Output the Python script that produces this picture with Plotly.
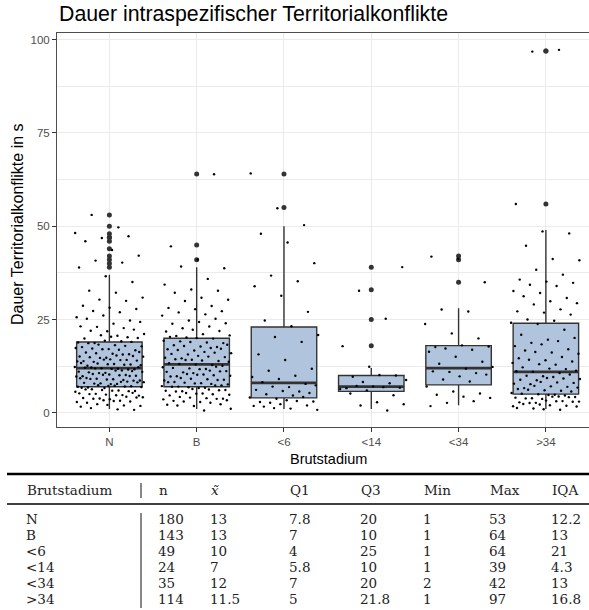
import numpy as np
import plotly.graph_objects as go

# ---- data -------------------------------------------------------------
categories = ["N", "B", "<6", "<14", "<34", ">34"]
tick_labels = ["N", "B", "&lt;6", "&lt;14", "&lt;34", "&gt;34"]

# conflict durations in seconds, one list per breeding stage
dauer_N = [
    1, 1, 1, 2, 2, 2, 2, 2, 3, 3, 3, 3, 3, 3, 4, 4, 4, 4, 4, 4, 4,
    5, 5, 5, 5, 5, 5, 5, 5, 6, 6, 6, 6, 6, 6, 6, 6,
    7, 7, 7, 7, 7, 7, 7, 7, 7, 7,
    8, 8, 8, 8, 8, 8, 8, 8, 8, 9, 9, 9, 9, 9, 9, 9, 9, 9,
    10, 10, 10, 10, 10, 10, 10, 10, 10, 11, 11, 11, 11, 11, 11, 11, 11,
    12, 12, 12, 12, 12, 12, 12, 12, 12, 12,
    13, 13, 13, 13, 13, 13, 13, 13, 14, 14, 14, 14, 14, 14, 14, 14,
    15, 15, 15, 15, 15, 15, 15, 16, 16, 16, 16, 16, 16,
    17, 17, 17, 17, 17, 17, 18, 18, 18, 18, 18, 19, 19, 19, 19, 19, 19,
    20, 20, 20, 20, 21, 21, 21, 22, 22, 22, 23, 23, 23, 24, 24, 25, 25,
    26, 26, 27, 27, 28, 28, 29, 30, 30, 31, 32, 33, 35, 37,
    39, 40, 41, 42, 44, 46, 47, 47, 48, 50, 53,
]
dauer_B = [
    1, 1, 2, 2, 2, 2, 3, 3, 3, 3, 3, 4, 4, 4, 4, 4, 4,
    5, 5, 5, 5, 5, 5, 6, 6, 6, 6, 6, 6, 6,
    7, 7, 7, 7, 7, 7, 7, 7,
    8, 8, 8, 8, 8, 8, 8, 9, 9, 9, 9, 9, 9, 10, 10, 10, 10, 10, 10, 10,
    11, 11, 11, 11, 11, 11, 12, 12, 12, 12, 12, 12,
    13, 13, 13, 13, 13,
    14, 14, 14, 14, 14, 14, 15, 15, 15, 15, 15, 16, 16, 16, 16, 16,
    17, 17, 17, 17, 17, 18, 18, 18, 18, 18, 19, 19, 19, 19, 19,
    20, 20, 20, 20,
    21, 21, 21, 22, 22, 22, 23, 23, 24, 24, 24, 25, 25, 26, 26, 27, 27,
    28, 28, 29, 30, 30, 31, 32, 33, 33, 34, 36, 39, 39,
    41, 45, 64,
]
dauer_lt6 = [
    1, 1, 1, 2, 2, 2, 2, 3, 3, 3, 3, 3, 4, 4, 4, 5, 5, 5, 6, 6, 6,
    7, 7, 7, 8, 8, 9, 10, 10, 11, 12, 14, 16, 19, 20, 21, 23,
    25, 27, 31, 34, 35, 37, 40, 46, 48, 50, 55, 64,
]
dauer_lt14 = [
    1, 2, 2, 3, 5, 5, 6, 6, 7, 7, 7, 7, 7, 8, 8, 9, 10, 10, 10, 12,
    18, 25, 33, 39,
]
dauer_lt34 = [
    2, 3, 3, 4, 4, 5, 5, 6, 7, 8, 9, 10, 10, 11, 11, 11, 12, 12, 13,
    14, 15, 16, 17, 17, 18, 18, 18, 20, 21, 24, 27, 28, 35, 41, 42,
]
dauer_gt34 = [
    1, 1, 1, 1, 2, 2, 2, 2, 2, 2, 3, 3, 3, 3, 3, 3, 3, 3,
    4, 4, 4, 4, 4, 4, 4, 4, 5, 5, 5, 5, 5, 5,
    6, 6, 6, 6, 6, 7, 7, 7, 7, 7, 8, 8, 8, 8, 8, 9, 9, 9, 9, 9,
    10, 10, 10, 10, 11, 11, 11, 11,
    12, 12, 12, 13, 13, 13, 14, 14, 14, 15, 15, 16, 16, 16, 17, 17,
    18, 18, 19, 19, 20, 20, 21, 22, 24, 24,
    25, 25, 26, 27, 27, 28, 29, 29, 30, 31, 31, 32, 33, 34, 34, 35, 35,
    36, 37, 38, 41, 41, 45, 48, 49, 56, 97, 97,
]
groups = [dauer_N, dauer_B, dauer_lt6, dauer_lt14, dauer_lt34, dauer_gt34]

# summary table printed under the chart
table_header = ["Brutstadium", "n", "<i>x̃</i>", "Q1", "Q3", "Min", "Max", "IQA"]
table_stage = ["N", "B", "&lt;6", "&lt;14", "&lt;34", "&gt;34"]
table_n = ["180", "143", "49", "24", "35", "114"]
table_median = ["13", "13", "10", "7", "12", "11.5"]
table_q1 = ["7.8", "7", "4", "5.8", "7", "5"]
table_q3 = ["20", "10", "25", "10", "20", "21.8"]
table_min = ["1", "1", "1", "1", "2", "1"]
table_max = ["53", "64", "64", "39", "42", "97"]
table_iqa = ["12.2", "13", "21", "4.3", "13", "16.8"]

# ---- geometry of the figure ------------------------------------------
W, H = 589, 610
L, R, T, B = 57, 589, 33, 427          # plot panel in pixels


def px_x(px):
    return (px - L) / (R - L)


def px_y(py):
    return (B - py) / (B - T)


# ---- box statistics (R type-7 quantiles, 1.5 IQR whiskers) -----------
pos = np.arange(1, len(categories) + 1)
q1s, meds, q3s, lows, highs = [], [], [], [], []
out_x, out_y = [], []
for p, vals in zip(pos, groups):
    v = np.asarray(vals, dtype=float)
    q1, med, q3 = np.percentile(v, [25, 50, 75])
    iqr = q3 - q1
    lo_f, hi_f = q1 - 1.5 * iqr, q3 + 1.5 * iqr
    inside = v[(v >= lo_f) & (v <= hi_f)]
    q1s.append(q1); meds.append(med); q3s.append(q3)
    lows.append(inside.min()); highs.append(inside.max())
    outl = v[(v < lo_f) | (v > hi_f)]
    out_x += [p] * len(outl)
    out_y += list(outl)

# jittered raw observations (horizontal +-0.4, vertical +-0.4)
jit_x, jit_y = [], []
for g, (p, vals) in enumerate(zip(pos, groups)):
    for k, val in enumerate(vals):
        fx = ((k + 1) * 0.6180339887 + 0.37 * g) % 1.0
        fy = ((k + 1) * 0.4142135624 + 0.21 * g) % 1.0
        jit_x.append(p + (fx - 0.5) * 0.8)
        jit_y.append(val + (fy - 0.5) * 0.8)

BOX_W = 0.75
med_x, med_y = [], []
for p, m in zip(pos, meds):
    med_x += [p - BOX_W / 2, p + BOX_W / 2, None]
    med_y += [m, m, None]

fig = go.Figure()
fig.add_trace(go.Box(
    x=pos, q1=q1s, median=meds, q3=q3s, lowerfence=lows, upperfence=highs,
    width=BOX_W, whiskerwidth=0, boxpoints=False,
    fillcolor="#B0C4DE", line=dict(color="#333333", width=1.4),
    showlegend=False, hoverinfo="skip",
))
fig.add_trace(go.Scatter(
    x=med_x, y=med_y, mode="lines", line=dict(color="#333333", width=2.8),
    showlegend=False, hoverinfo="skip",
))
fig.add_trace(go.Scatter(
    x=out_x, y=out_y, mode="markers",
    marker=dict(color="#333333", size=5, line=dict(width=0)),
    showlegend=False, hoverinfo="skip",
))
fig.add_trace(go.Scatter(
    x=jit_x, y=jit_y, mode="markers",
    marker=dict(color="black", size=2.4, line=dict(width=0)),
    showlegend=False, hoverinfo="skip",
))

grid = "#EBEBEB"
fig.update_xaxes(
    range=[0.4, 0.4 + (R - L) / 87.3], tickmode="array", tickvals=pos,
    ticktext=tick_labels, showgrid=True, gridcolor=grid, gridwidth=1.1,
    zeroline=False, showline=True, mirror=True, linecolor="#4d4d4d",
    linewidth=1, ticks="outside", ticklen=4, tickcolor="#333333",
    tickfont=dict(family="Liberation Sans", size=11.5, color="#4D4D4D"),
)
fig.update_yaxes(
    range=[-3.8, 101.8], tickmode="array", tickvals=[0, 25, 50, 75, 100],
    showgrid=True, gridcolor=grid, gridwidth=1.1, zeroline=False,
    showline=True, linecolor="#4d4d4d", linewidth=1,
    ticks="outside", ticklen=4, tickcolor="#333333",
    tickfont=dict(family="Liberation Sans", size=11.5, color="#4D4D4D"),
    minor=dict(tickvals=[12.5, 37.5, 62.5, 87.5], showgrid=True,
               gridcolor=grid, gridwidth=0.6, ticks=""),
)

ann = []
shapes = []
# titles
ann.append(dict(text="Dauer intraspezifischer Territorialkonflikte",
                x=px_x(57), y=px_y(14), xanchor="left", yanchor="middle",
                font=dict(family="Liberation Sans", size=21.3, color="black")))
ann.append(dict(text="Brutstadium", x=px_x(328), y=px_y(459),
                xanchor="center", yanchor="middle",
                font=dict(family="Liberation Sans", size=14.5, color="black")))
ann.append(dict(text="Dauer Territorialkonflikte in s", x=px_x(18),
                y=px_y(224), textangle=-90, xanchor="center",
                yanchor="middle",
                font=dict(family="Liberation Sans", size=16, color="black")))

# table
col_x = [24.5, 157, 209, 288, 358.5, 421.5, 488, 549.5]
tfont = dict(family="DejaVu Serif", size=13.5, color="#222222")
for cx, h in zip(col_x, table_header):
    ann.append(dict(text=h, x=px_x(cx), y=px_y(490), xanchor="left",
                    yanchor="middle", font=tfont))
columns = [table_stage, table_n, table_median, table_q1, table_q3,
           table_min, table_max, table_iqa]
row_y = [519 + 16 * i for i in range(len(table_stage))]
for cx, col in zip(col_x, columns):
    for ry, txt in zip(row_y, col):
        ann.append(dict(text=txt, x=px_x(cx), y=px_y(ry), xanchor="left",
                        yanchor="middle", font=tfont, borderpad=0))
for a in ann:
    a.update(xref="paper", yref="paper", showarrow=False)

shapes.append(dict(type="line", xref="paper", yref="paper",
                   x0=px_x(7), x1=px_x(600), y0=px_y(474), y1=px_y(474),
                   line=dict(color="black", width=2.6)))
shapes.append(dict(type="line", xref="paper", yref="paper",
                   x0=px_x(7), x1=px_x(600), y0=px_y(504), y1=px_y(504),
                   line=dict(color="black", width=1.6)))
for y0, y1 in [(483, 498), (513, 608)]:
    shapes.append(dict(type="line", xref="paper", yref="paper",
                       x0=px_x(141), x1=px_x(141), y0=px_y(y0), y1=px_y(y1),
                       line=dict(color="#555555", width=1.4)))

fig.update_layout(
    width=W, height=H, margin=dict(l=L, r=W - R, t=T, b=H - B),
    paper_bgcolor="white", plot_bgcolor="white",
    annotations=ann, shapes=shapes, showlegend=False,
)

fig.write_html("out.html")
